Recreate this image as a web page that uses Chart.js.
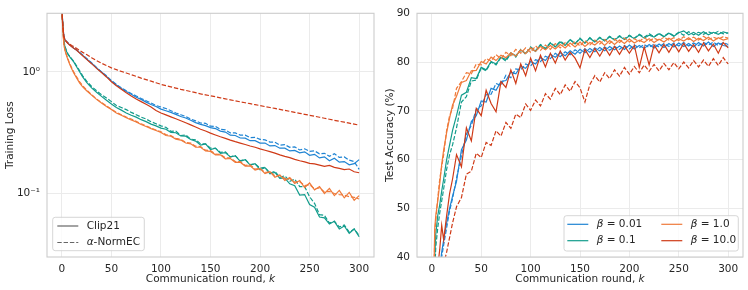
<!DOCTYPE html>
<html>
<head>
<meta charset="utf-8">
<script src="https://cdn.jsdelivr.net/npm/chart.js@4.4.0/dist/chart.umd.min.js"></script>
<style>
  html, body { margin: 0; padding: 0; background: #fff; }
  #wrap { position: relative; width: 748px; height: 290px; }
  #lossChart { position: absolute; left: 0; top: 0; }
  #accChart { position: absolute; left: 376px; top: 0; }
</style>
</head>
<body>
<div id="wrap">
  <canvas id="lossChart" width="376" height="290"></canvas>
  <canvas id="accChart" width="372" height="290"></canvas>
</div>
<script>
const rounds = [0, 1, 2, 3, 4, 6, 8, 10, 12, 15, 18, 21,
  25, 30, 35, 40, 45, 50, 55, 60, 65, 70,
  75, 80, 85, 90, 95, 100, 105, 110, 115, 120,
  125, 130, 135, 140, 145, 150, 155, 160, 165, 170,
  175, 180, 185, 190, 195, 200, 205, 210, 215, 220,
  225, 230, 235, 240, 245, 250, 255, 260, 265, 270,
  275, 280, 285, 290, 295, 300];

const xTicks = [0, 50, 100, 150, 200, 250, 300];
const lossTicks = [0.1, 1];
const lossTickLabels = ['10\u207B\u00B9', '10\u2070'];
const accTicks = [40, 50, 60, 70, 80, 90];

const betaLabels = ['0.01', '0.1', '1.0', '10.0'];
const methodLabels = ['Clip21', 'NormEC'];

// ---- training loss (left) ----
const lossClipBlue = [3.3, 2.45, 1.97, 1.86, 1.8, 1.73, 1.67, 1.62, 1.57, 1.51, 1.44, 1.37,
  1.28, 1.18, 1.08, 1.0, 0.92, 0.84, 0.78, 0.73, 0.69, 0.655,
  0.62, 0.595, 0.565, 0.54, 0.52, 0.495, 0.48, 0.465, 0.448, 0.43,
  0.418, 0.40, 0.383, 0.37, 0.362, 0.348, 0.342, 0.326, 0.32, 0.302,
  0.3, 0.286, 0.285, 0.272, 0.272, 0.26, 0.26, 0.246, 0.248, 0.236,
  0.236, 0.224, 0.226, 0.216, 0.22, 0.206, 0.21, 0.196, 0.2, 0.186,
  0.195, 0.181, 0.183, 0.172, 0.176, 0.19];
const lossNormBlue = [3.3, 2.45, 1.98, 1.87, 1.81, 1.74, 1.68, 1.63, 1.58, 1.52, 1.45, 1.38,
  1.29, 1.19, 1.09, 1.0, 0.93, 0.85, 0.79, 0.74, 0.70, 0.665,
  0.635, 0.605, 0.58, 0.555, 0.53, 0.515, 0.5, 0.48, 0.46, 0.445,
  0.43, 0.41, 0.396, 0.38, 0.378, 0.358, 0.356, 0.337, 0.334, 0.315,
  0.315, 0.302, 0.302, 0.288, 0.29, 0.279, 0.276, 0.265, 0.264, 0.25,
  0.252, 0.24, 0.242, 0.228, 0.233, 0.222, 0.224, 0.212, 0.214, 0.202,
  0.212, 0.198, 0.2, 0.188, 0.183, 0.158];
const lossClipTeal = [3.3, 2.3, 1.8, 1.62, 1.52, 1.4, 1.33, 1.27, 1.21, 1.1, 1.0, 0.91,
  0.82, 0.74, 0.68, 0.63, 0.585, 0.545, 0.51, 0.485, 0.46, 0.44,
  0.425, 0.405, 0.39, 0.372, 0.36, 0.345, 0.338, 0.318, 0.316, 0.297,
  0.296, 0.278, 0.27, 0.25, 0.256, 0.23, 0.236, 0.214, 0.217, 0.2,
  0.204, 0.184, 0.19, 0.171, 0.176, 0.157, 0.163, 0.145, 0.149, 0.133,
  0.134, 0.12, 0.116, 0.097, 0.098, 0.081, 0.077, 0.064, 0.063, 0.056,
  0.059, 0.051, 0.054, 0.047, 0.051, 0.044];
const lossNormTeal = [3.3, 2.35, 1.82, 1.65, 1.55, 1.42, 1.34, 1.28, 1.22, 1.12, 1.02, 0.93,
  0.84, 0.76, 0.7, 0.65, 0.61, 0.57, 0.53, 0.51, 0.49, 0.465,
  0.445, 0.425, 0.41, 0.39, 0.375, 0.36, 0.35, 0.325, 0.326, 0.3,
  0.303, 0.28, 0.277, 0.256, 0.256, 0.236, 0.235, 0.218, 0.22, 0.2,
  0.205, 0.186, 0.191, 0.173, 0.175, 0.162, 0.164, 0.147, 0.152, 0.136,
  0.14, 0.126, 0.131, 0.114, 0.114, 0.094, 0.083, 0.067, 0.066, 0.057,
  0.059, 0.053, 0.055, 0.048, 0.051, 0.045];
const lossClipOrange = [3.3, 2.2, 1.68, 1.52, 1.42, 1.27, 1.15, 1.06, 0.98, 0.89, 0.81, 0.755,
  0.7, 0.645, 0.595, 0.555, 0.52, 0.49, 0.46, 0.44, 0.42, 0.403,
  0.388, 0.37, 0.356, 0.342, 0.33, 0.318, 0.3, 0.296, 0.28, 0.275,
  0.26, 0.256, 0.241, 0.24, 0.224, 0.222, 0.208, 0.208, 0.193, 0.194,
  0.18, 0.181, 0.168, 0.169, 0.156, 0.16, 0.146, 0.151, 0.136, 0.142,
  0.128, 0.135, 0.121, 0.128, 0.112, 0.122, 0.107, 0.114, 0.1, 0.11,
  0.096, 0.106, 0.092, 0.102, 0.088, 0.096];
const lossNormOrange = [3.3, 2.25, 1.7, 1.54, 1.44, 1.29, 1.17, 1.08, 1.0, 0.91, 0.83, 0.77,
  0.71, 0.65, 0.6, 0.56, 0.525, 0.495, 0.465, 0.445, 0.425, 0.41,
  0.392, 0.375, 0.36, 0.346, 0.333, 0.322, 0.305, 0.299, 0.284, 0.279,
  0.263, 0.26, 0.245, 0.243, 0.227, 0.225, 0.211, 0.21, 0.197, 0.196,
  0.183, 0.183, 0.17, 0.172, 0.159, 0.161, 0.149, 0.15, 0.14, 0.141,
  0.132, 0.133, 0.124, 0.125, 0.116, 0.118, 0.109, 0.111, 0.103, 0.104,
  0.1, 0.098, 0.097, 0.094, 0.093, 0.09];
const lossClipRed = [3.3, 2.4, 1.95, 1.85, 1.79, 1.72, 1.66, 1.61, 1.57, 1.51, 1.43, 1.36,
  1.27, 1.17, 1.07, 0.99, 0.91, 0.83, 0.77, 0.72, 0.675, 0.635,
  0.6, 0.57, 0.542, 0.515, 0.482, 0.46, 0.443, 0.427, 0.412, 0.397,
  0.382, 0.367, 0.352, 0.338, 0.327, 0.314, 0.303, 0.293, 0.284, 0.275,
  0.267, 0.26, 0.253, 0.246, 0.24, 0.233, 0.227, 0.221, 0.215, 0.208,
  0.202, 0.197, 0.191, 0.186, 0.182, 0.177, 0.175, 0.171, 0.167, 0.17,
  0.164, 0.161, 0.157, 0.159, 0.151, 0.148];
const lossNormRed = [3.3, 2.4, 1.96, 1.86, 1.8, 1.74, 1.69, 1.65, 1.62, 1.56, 1.5, 1.45,
  1.39, 1.31, 1.24, 1.18, 1.13, 1.08, 1.045, 1.01, 0.98, 0.95,
  0.92, 0.89, 0.865, 0.84, 0.815, 0.79, 0.772, 0.755, 0.737, 0.72,
  0.705, 0.69, 0.675, 0.66, 0.648, 0.637, 0.625, 0.613, 0.601, 0.59,
  0.579, 0.568, 0.558, 0.548, 0.538, 0.529, 0.519, 0.51, 0.501, 0.492,
  0.483, 0.474, 0.465, 0.457, 0.448, 0.44, 0.432, 0.424, 0.416, 0.408,
  0.4, 0.393, 0.386, 0.379, 0.372, 0.365];

// ---- test accuracy (right) ----
const accClipBlue = [10, 14, 20, 26, 30, 34, 37.5, 41, 43.5, 47, 50, 52.5,
  55.5, 62.0, 64.0, 67.8, 69.0, 72.0, 71.8, 74.6, 74.2, 76.0,
  76.2, 77.9, 77.6, 79.1, 78.7, 80.1, 79.6, 80.9, 80.3, 81.6,
  81.0, 81.9, 81.3, 82.3, 81.6, 82.6, 81.9, 82.8, 82.1, 83.0,
  82.3, 83.2, 82.5, 83.3, 82.6, 83.5, 82.7, 83.4, 82.8, 83.6,
  82.9, 83.7, 83.0, 83.8, 83.1, 83.9, 83.2, 83.8, 83.1, 84.0,
  83.3, 84.1, 83.2, 83.9, 83.4, 83.2];
const accNormBlue = [10, 13, 19, 25, 29, 33, 36.5, 40, 42.5, 46, 49.5, 52,
  56.2, 60.8, 65.2, 67.0, 70.3, 71.0, 73.3, 73.4, 75.6, 75.2,
  77.3, 76.8, 78.6, 78.4, 79.6, 79.2, 80.5, 80.1, 81.2, 80.7,
  81.8, 81.1, 82.1, 81.5, 82.5, 81.8, 82.7, 82.0, 82.9, 82.3,
  83.1, 82.4, 83.2, 82.6, 83.4, 82.7, 83.5, 82.9, 83.6, 83.0,
  83.7, 83.1, 83.8, 83.2, 83.9, 83.3, 84.0, 83.3, 83.9, 83.4,
  84.0, 83.5, 84.1, 83.4, 84.0, 83.6];
const accClipTeal = [10, 18, 30, 40, 44.7, 48.5, 50.7, 53.5, 56, 60, 63, 66,
  69.0, 73.2, 73.8, 76.8, 76.6, 78.9, 78.4, 80.1, 79.6, 81.0,
  80.5, 81.9, 81.3, 82.4, 81.8, 82.9, 82.2, 83.5, 82.6, 83.9,
  83.1, 84.1, 83.4, 84.6, 83.7, 84.8, 83.9, 84.9, 84.1, 85.0,
  84.3, 85.2, 84.5, 85.3, 84.6, 85.4, 84.8, 85.6, 84.9, 85.5,
  85.1, 85.8, 85.2, 85.9, 85.3, 86.0, 86.4, 85.6, 86.1, 85.5,
  86.2, 85.6, 86.1, 85.7, 86.2, 85.9];
const accNormTeal = [10, 16, 27, 37, 42, 46, 49, 51.5, 54, 58, 61, 63,
  66.5, 71.8, 72.9, 76.1, 76.3, 78.8, 78.2, 80.0, 79.4, 81.0,
  80.2, 81.8, 81.0, 82.6, 81.6, 83.1, 82.3, 83.6, 82.8, 84.0,
  83.2, 84.3, 83.5, 84.6, 83.8, 84.9, 83.9, 85.0, 84.2, 85.1,
  84.4, 85.3, 84.6, 85.4, 84.8, 85.5, 84.9, 85.7, 85.1, 85.8,
  85.2, 85.9, 85.3, 86.0, 85.4, 86.1, 85.5, 86.2, 85.6, 86.1,
  85.7, 86.2, 85.8, 86.3, 85.8, 86.0];
const accClipOrange = [10, 22, 36, 46, 48.5, 51.5, 55, 59, 62, 65.5, 68.5, 71.2,
  73.0, 75.8, 76.2, 78.2, 78.3, 80.1, 79.6, 81.0, 80.3, 81.4,
  80.9, 81.9, 81.2, 82.5, 81.7, 82.9, 82.2, 83.2, 82.5, 83.4,
  82.7, 83.6, 82.9, 83.9, 83.1, 84.1, 83.2, 84.0, 83.5, 84.3,
  83.4, 84.4, 83.6, 84.5, 83.8, 84.7, 83.9, 84.5, 84.0, 84.8,
  84.0, 84.7, 84.1, 84.9, 84.2, 84.8, 84.3, 85.0, 84.2, 84.9,
  84.4, 85.1, 84.3, 85.0, 84.5, 84.8];
const accNormOrange = [10, 20, 34, 45, 47.5, 52, 56, 58.5, 61, 66, 69, 70.5,
  74.6, 76.0, 77.8, 77.6, 79.6, 79.4, 80.7, 80.2, 81.5, 80.7,
  82.0, 81.3, 82.6, 81.8, 82.9, 82.0, 83.3, 82.4, 83.5, 82.6,
  83.8, 82.9, 84.0, 83.2, 84.2, 83.3, 84.4, 83.5, 84.5, 83.7,
  84.6, 83.8, 84.7, 84.0, 84.9, 84.1, 84.8, 84.2, 85.0, 84.3,
  84.9, 84.4, 85.1, 84.5, 85.0, 84.4, 85.2, 84.6, 85.1, 84.5,
  85.3, 84.6, 85.1, 84.7, 85.2, 84.9];
const accClipRed = [10, 14, 21, 28, 33, 38, 41.5, 46.5, 43.5, 48.5, 53, 56,
  61.0, 58.5, 66.5, 63.8, 70.5, 69.0, 74.2, 71.5, 69.8, 76.0,
  74.8, 78.4, 75.6, 79.6, 77.2, 80.8, 78.2, 81.4, 79.0, 81.8,
  79.8, 82.3, 80.4, 82.0, 80.8, 78.8, 82.6, 80.9, 82.8, 81.2,
  83.0, 81.4, 83.2, 81.6, 83.3, 81.8, 83.4, 78.9, 83.1, 79.4,
  83.5, 81.9, 83.6, 82.0, 83.7, 82.1, 83.8, 82.2, 83.6, 82.0,
  83.9, 82.3, 83.7, 81.8, 84.0, 82.9];
const accNormRed = [10, 12, 15, 18, 21, 26, 31, 36, 38.5, 41, 44, 47,
  50.3, 52.2, 57.0, 57.6, 61.3, 60.4, 63.5, 62.9, 65.9, 64.8,
  67.6, 66.4, 69.3, 68.6, 71.4, 70.1, 72.2, 71.0, 73.5, 72.4,
  74.6, 73.3, 75.3, 74.0, 76.0, 74.7, 71.8, 75.4, 77.2, 75.9,
  77.8, 76.6, 78.4, 77.1, 78.9, 77.5, 79.1, 77.8, 79.4, 78.1,
  79.5, 78.2, 79.7, 78.4, 79.9, 78.6, 80.0, 78.8, 80.3, 79.0,
  80.4, 79.1, 80.7, 79.3, 80.9, 79.6];

const colors = ['#1f84d3', '#129c8c', '#ef7a3a', '#cf3a17'];
const FONT = '"DejaVu Sans", sans-serif';
const TXT = '#262626';
const GRID = '#ebebeb';
const DASH = [4.4, 1.9];

Chart.defaults.font.family = FONT;
Chart.defaults.font.size = 10.5;
Chart.defaults.color = TXT;

function pts(vals) {
  return rounds.map((k, i) => ({ x: k, y: vals[i] }));
}

function line(vals, color, dashed) {
  return {
    data: pts(vals),
    borderColor: color,
    borderWidth: 1.2,
    borderDash: dashed ? DASH : [],
    pointRadius: 0,
    fill: false,
    tension: 0
  };
}

// first dataset is drawn on top, so the list is reversed
function buildSets(groups) {
  const sets = [];
  groups.forEach((g, i) => {
    sets.push(line(g[0], colors[i], false));
    sets.push(line(g[1], colors[i], true));
  });
  return sets.reverse();
}

const framePlugin = {
  id: 'frame',
  afterDatasetsDraw(chart) {
    const a = chart.chartArea, ctx = chart.ctx;
    ctx.save();
    ctx.strokeStyle = '#cccccc';
    ctx.lineWidth = 1.1;
    ctx.strokeRect(a.left, a.top, a.right - a.left, a.bottom - a.top);
    ctx.restore();
  }
};

// draws a run of [text, italic] pieces starting at x
function drawParts(ctx, parts, x, y) {
  parts.forEach(p => {
    ctx.font = (p[1] ? 'italic ' : '') + '10.5px ' + FONT;
    ctx.fillText(p[0], x, y);
    x += ctx.measureText(p[0]).width;
  });
  return x;
}

function partsWidth(ctx, parts) {
  let w = 0;
  parts.forEach(p => {
    ctx.font = (p[1] ? 'italic ' : '') + '10.5px ' + FONT;
    w += ctx.measureText(p[0]).width;
  });
  return w;
}

function titlePlugin(yTitle, yPos) {
  return {
    id: 'titles',
    afterDraw(chart) {
      const a = chart.chartArea, ctx = chart.ctx;
      const xParts = [['Communication round, ', false], ['k', true]];
      ctx.save();
      ctx.fillStyle = TXT;
      ctx.textBaseline = 'middle';
      ctx.textAlign = 'left';
      const w = partsWidth(ctx, xParts);
      drawParts(ctx, xParts, (a.left + a.right) / 2 - w / 2, 279);
      ctx.translate(yPos, (a.top + a.bottom) / 2);
      ctx.rotate(-Math.PI / 2);
      ctx.textAlign = 'center';
      ctx.font = '10.5px ' + FONT;
      ctx.fillText(yTitle, 0, 0);
      ctx.restore();
    }
  };
}

function legendPlugin(box, items) {
  return {
    id: 'boxLegend',
    afterDraw(chart) {
      const ctx = chart.ctx;
      ctx.save();
      ctx.beginPath();
      ctx.roundRect(box[0], box[1], box[2], box[3], 2.5);
      ctx.fillStyle = 'rgba(255,255,255,0.8)';
      ctx.fill();
      ctx.strokeStyle = '#cccccc';
      ctx.lineWidth = 0.8;
      ctx.stroke();
      items.forEach(it => {
        ctx.beginPath();
        ctx.setLineDash(it.dash ? DASH : []);
        ctx.strokeStyle = it.color;
        ctx.lineWidth = 1.2;
        ctx.moveTo(it.x, it.y);
        ctx.lineTo(it.x + 21, it.y);
        ctx.stroke();
        ctx.setLineDash([]);
        ctx.fillStyle = TXT;
        ctx.textBaseline = 'middle';
        ctx.textAlign = 'left';
        drawParts(ctx, it.parts, it.x + 29.4, it.y);
      });
      ctx.restore();
    }
  };
}

function xScale() {
  return {
    type: 'linear',
    min: -15,
    max: 315,
    border: { display: false },
    grid: { color: GRID, lineWidth: 1, drawTicks: false },
    ticks: { padding: 6, maxRotation: 0, color: TXT },
    afterBuildTicks: s => { s.ticks = xTicks.map(v => ({ value: v })); },
    afterFit: s => { s.height = 33; }
  };
}

// left: training loss, log scale
new Chart(document.getElementById('lossChart'), {
  type: 'line',
  data: {
    datasets: buildSets([
      [lossClipBlue, lossNormBlue],
      [lossClipTeal, lossNormTeal],
      [lossClipOrange, lossNormOrange],
      [lossClipRed, lossNormRed]
    ])
  },
  options: {
    responsive: false,
    animation: false,
    events: [],
    devicePixelRatio: 1,
    layout: { padding: { left: 0, right: 2, top: 7, bottom: 0 } },
    plugins: { legend: { display: false }, tooltip: { enabled: false } },
    scales: {
      x: xScale(),
      y: {
        type: 'logarithmic',
        min: 0.03,
        max: 3.04,
        border: { display: false },
        grid: { color: GRID, lineWidth: 1, drawTicks: false },
        ticks: {
          padding: 7,
          color: TXT,
          callback: v => lossTickLabels[lossTicks.indexOf(v)]
        },
        afterBuildTicks: s => { s.ticks = lossTicks.map(v => ({ value: v })); },
        afterFit: s => { s.width = 47; }
      }
    }
  },
  plugins: [
    framePlugin,
    titlePlugin('Training Loss', 10),
    legendPlugin([52.7, 217.3, 91.6, 33.4], [
      { x: 57.3, y: 226, color: '#666666', dash: false, parts: [[methodLabels[0], false]] },
      { x: 57.3, y: 242.5, color: '#666666', dash: true, parts: [['\u03B1', true], ['-' + methodLabels[1], false]] }
    ])
  ]
});

// right: test accuracy
new Chart(document.getElementById('accChart'), {
  type: 'line',
  data: {
    datasets: buildSets([
      [accClipBlue, accNormBlue],
      [accClipTeal, accNormTeal],
      [accClipOrange, accNormOrange],
      [accClipRed, accNormRed]
    ])
  },
  options: {
    responsive: false,
    animation: false,
    events: [],
    devicePixelRatio: 1,
    layout: { padding: { left: 0, right: 5, top: 7, bottom: 0 } },
    plugins: { legend: { display: false }, tooltip: { enabled: false } },
    scales: {
      x: xScale(),
      y: {
        type: 'linear',
        min: 40,
        max: 90,
        border: { display: false },
        grid: { color: GRID, lineWidth: 1, drawTicks: false },
        ticks: { padding: 7, color: TXT },
        afterBuildTicks: s => { s.ticks = accTicks.map(v => ({ value: v })); },
        afterFit: s => { s.width = 41; }
      }
    }
  },
  plugins: [
    framePlugin,
    titlePlugin('Test Accuracy (%)', 14.5),
    legendPlugin([188, 215.7, 174.3, 35.3], [
      { x: 191.3, y: 224.3, color: colors[0], dash: false, parts: [['\u03B2', true], [' = ' + betaLabels[0], false]] },
      { x: 191.3, y: 240.7, color: colors[1], dash: false, parts: [['\u03B2', true], [' = ' + betaLabels[1], false]] },
      { x: 285.3, y: 224.3, color: colors[2], dash: false, parts: [['\u03B2', true], [' = ' + betaLabels[2], false]] },
      { x: 285.3, y: 240.7, color: colors[3], dash: false, parts: [['\u03B2', true], [' = ' + betaLabels[3], false]] }
    ])
  ]
});
</script>
</body>
</html>
